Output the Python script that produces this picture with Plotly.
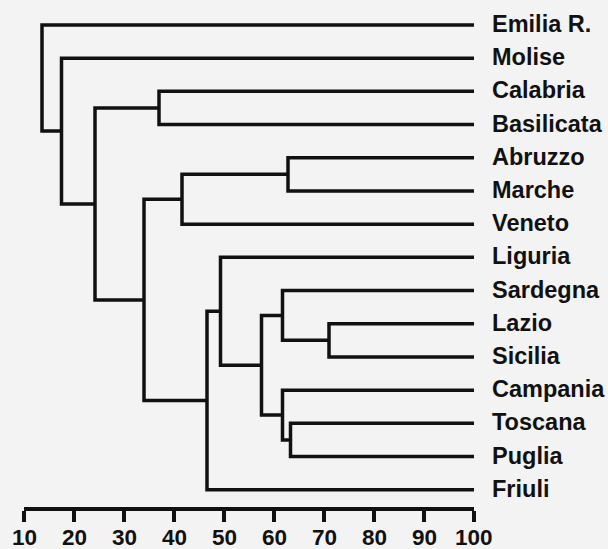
import plotly.graph_objects as go

# Leaves, top to bottom
regions = ["Emilia R.", "Molise", "Calabria", "Basilicata", "Abruzzo", "Marche",
           "Veneto", "Liguria", "Sardegna", "Lazio", "Sicilia", "Campania",
           "Toscana", "Puglia", "Friuli"]

# Agglomeration steps: node ids 0..14 are leaves, each merge creates node 15, 16, ...
merge_a = [4, 12, 9, 8, 11, 18, 7, 21, 15, 23, 2, 25, 1, 0]
merge_b = [5, 13, 10, 17, 16, 19, 20, 14, 6, 22, 3, 24, 26, 27]
merge_level = [62.8, 63.3, 71.0, 61.7, 61.7, 57.5, 49.3, 46.6, 41.6, 34.0, 37.0, 24.2, 17.5, 13.6]

tick_vals = [10, 20, 30, 40, 50, 60, 70, 80, 90, 100]
tick_text = ["10", "20", "30", "40", "50", "60", "70", "80", "90", "100"]
leaf_level = 100

# node positions: (similarity, vertical slot)
pos = {i: (leaf_level, i) for i in range(len(regions))}
xs, ys = [], []
for k, (a, b, lv) in enumerate(zip(merge_a, merge_b, merge_level)):
    xa, ya = pos[a]
    xb, yb = pos[b]
    xs += [xa, lv, lv, xb, None]
    ys += [ya, ya, yb, yb, None]
    pos[len(regions) + k] = (lv, (ya + yb) / 2)

ink = "#111111"
bg = "#f3f3f3"
font_family = "Liberation Sans, Arial, sans-serif"

fig = go.Figure()
fig.add_trace(go.Scatter(x=xs, y=ys, mode="lines",
                         line=dict(color=ink, width=3.5),
                         hoverinfo="skip", showlegend=False))

# leaf names to the right of the tree
for i, name in enumerate(regions):
    fig.add_annotation(x=leaf_level, y=i, text=name, showarrow=False,
                       xanchor="left", yanchor="middle", xshift=16, yshift=1,
                       font=dict(family=font_family, size=23.5, color=ink, weight="bold"))

# similarity scale labels under the tick marks
for v, t in zip(tick_vals, tick_text):
    fig.add_annotation(x=v, y=0, xref="x", yref="paper", text=t, showarrow=False,
                       xanchor="center", yanchor="middle", yshift=-30,
                       font=dict(family=font_family, size=22.5, color=ink, weight="bold"))

fig.update_layout(
    width=608, height=549,
    margin=dict(l=23.5, r=133.5, t=10, b=42),
    paper_bgcolor=bg, plot_bgcolor=bg,
    xaxis=dict(range=[10, 100], tickvals=tick_vals, ticks="outside",
               ticklen=11, tickwidth=3.5, tickcolor=ink, showticklabels=False,
               showline=True, linewidth=3.5, linecolor=ink,
               showgrid=False, zeroline=False, automargin=False),
    yaxis=dict(range=[14.52, -0.45], showticklabels=False, showgrid=False,
               zeroline=False, showline=False, ticks="", automargin=False),
)

fig.write_html("out.html")
